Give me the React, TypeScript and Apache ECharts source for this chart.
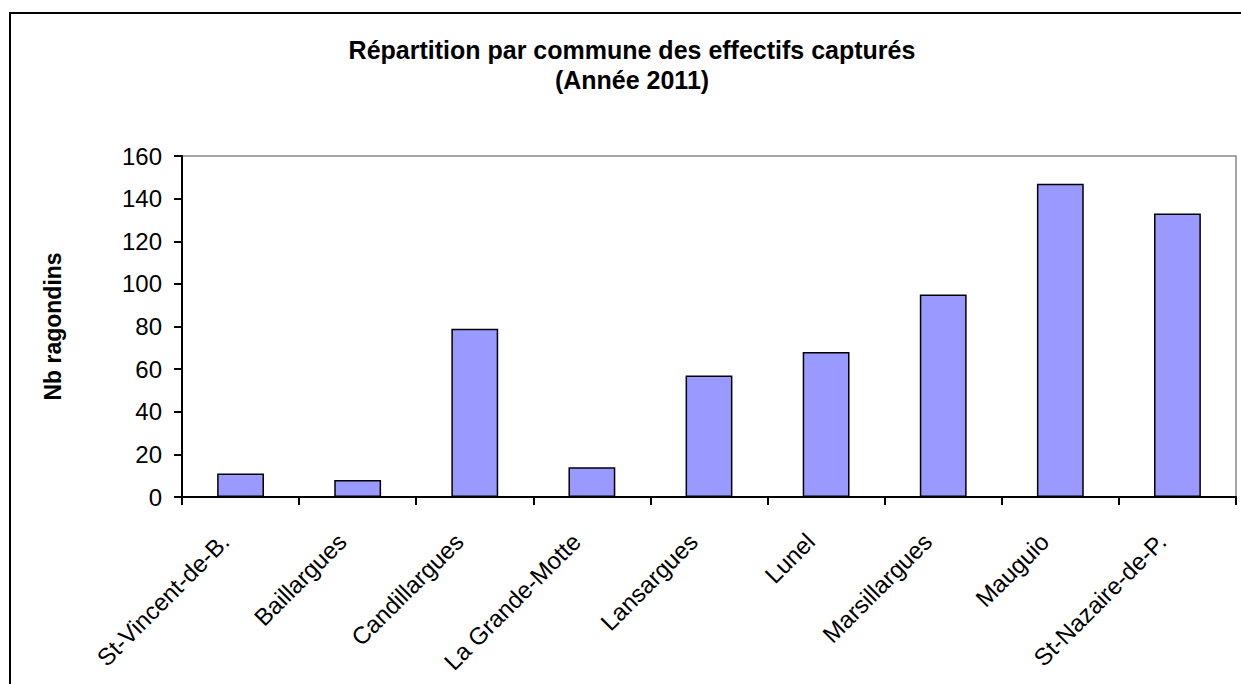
import React, { useEffect, useRef } from "react";
import * as echarts from "echarts";

const categories = [
  "St-Vincent-de-B.",
  "Baillargues",
  "Candillargues",
  "La Grande-Motte",
  "Lansargues",
  "Lunel",
  "Marsillargues",
  "Mauguio",
  "St-Nazaire-de-P.",
];
const values = [11, 8, 79, 14, 57, 68, 95, 147, 133];
const yTicks = { min: 0, max: 160, interval: 20 };
const titleText = "Répartition par commune des effectifs capturés\n(Année 2011)";
const yName = "Nb ragondins";

const FONT = "'Liberation Sans', Arial, Helvetica, sans-serif";

export default function App() {
  const ref = useRef<HTMLDivElement>(null);
  useEffect(() => {
    if (!ref.current) return;
    const chart = echarts.init(ref.current, undefined, { renderer: "svg" });
    chart.setOption({
      animation: false,
      backgroundColor: "#ffffff",
      textStyle: { fontFamily: FONT },
      title: {
        text: titleText,
        left: 632,
        top: 35,
        padding: 0,
        textAlign: "center",
        textStyle: {
          fontFamily: FONT,
          fontSize: 25,
          fontWeight: "bold",
          color: "#000",
          lineHeight: 30,
        },
      },
      graphic: [
        {
          type: "rect",
          shape: { x: 10, y: 13, width: 1260, height: 700 },
          style: { fill: "none", stroke: "#000", lineWidth: 2 },
          silent: true,
          z: -1,
        },
      ],
      grid: {
        left: 182,
        top: 156,
        right: 5,
        bottom: 187,
        show: true,
        borderColor: "#888",
        borderWidth: 1.5,
        backgroundColor: "transparent",
      },
      xAxis: {
        type: "category",
        data: categories,
        axisLine: { show: true, lineStyle: { color: "#000", width: 2 } },
        axisTick: { show: true, alignWithLabel: false, length: 8, lineStyle: { color: "#000", width: 2 } },
        axisLabel: {
          interval: 0,
          rotate: 45,
          margin: 25,
          padding: [0, 22, 0, 0],
          color: "#000",
          fontSize: 24,
          fontFamily: FONT,
        },
        splitLine: { show: false },
      },
      yAxis: {
        type: "value",
        min: yTicks.min,
        max: yTicks.max,
        interval: yTicks.interval,
        name: yName,
        nameLocation: "middle",
        nameRotate: 90,
        nameGap: 118,
        nameTextStyle: {
          fontFamily: FONT,
          fontSize: 23,
          fontWeight: "bold",
          color: "#000",
        },
        axisLine: { show: true, lineStyle: { color: "#000", width: 2 } },
        axisTick: { show: true, inside: false, length: 8, lineStyle: { color: "#000", width: 2 } },
        axisLabel: { color: "#000", fontSize: 24, fontFamily: FONT, margin: 20 },
        splitLine: { show: false },
      },
      series: [
        {
          type: "bar",
          data: values,
          barWidth: "40%",
          itemStyle: { color: "#9999FF", borderColor: "#000", borderWidth: 1.5 },
        },
      ],
    });
    return () => chart.dispose();
  }, []);
  return (
    <div
      ref={ref}
      style={{ position: "fixed", left: 0, top: 0, width: 1241, height: 684 }}
    />
  );
}
